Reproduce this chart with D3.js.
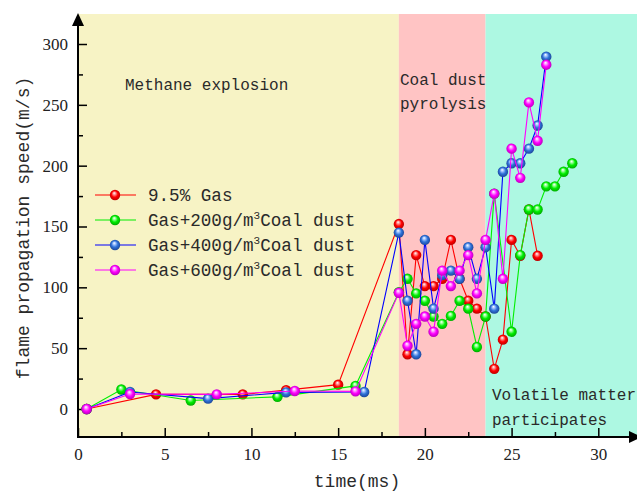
<!DOCTYPE html>
<html><head><meta charset="utf-8">
<script src="https://cdn.jsdelivr.net/npm/d3@7"></script>
<style>
html,body{margin:0;padding:0;background:#fff;}
svg{display:block;}
.lab{font-family:"Liberation Mono",monospace;fill:#2a2a2a;}
.tick text{font-family:"Liberation Serif",serif;font-size:17px;fill:#222;}
</style></head>
<body>
<svg id="chart" width="637" height="492"></svg>
<script>
// ---- data ----
const xTicks = [0, 5, 10, 15, 20, 25, 30];
const yTicks = [0, 50, 100, 150, 200, 250, 300];
const xMinor = [2.5, 7.5, 12.5, 17.5, 22.5, 27.5];
const yMinor = [25, 75, 125, 175, 225, 275];

const stages = ["Methane explosion", "Coal dust pyrolysis", "Volatile matter participates"];
const stageStart = [0, 18.5, 23.5];
const stageEnd = [18.5, 23.5, 34];

const seriesNames = ["9.5% Gas", "Gas+200g/m3Coal dust", "Gas+400g/m3Coal dust", "Gas+600g/m3Coal dust"];

const gasTime  = [0.5, 4.5, 9.5, 12, 15, 18.5, 19, 19.5, 20, 20.5, 21, 21.5, 22, 22.5, 23, 23.5, 24, 24.5, 25, 25.5, 26, 26.5];
const gasSpeed = [0, 12, 12, 15.5, 20, 152, 45, 126.5, 101, 101, 107, 139, 107, 89, 82.5, 76, 33, 57, 139, 126, 164, 126];

const c200Time  = [0.5, 2.5, 6.5, 11.5, 16, 18.5, 19, 19.5, 20, 20.5, 21, 21.5, 22, 22.5, 23, 23.5, 24, 25, 25.5, 26, 26.5, 27, 27.5, 28, 28.5];
const c200Speed = [0, 16, 7, 10, 19, 96, 107, 95, 89, 76, 70, 76.5, 89, 82.5, 51, 76, 177, 63.5, 126.5, 164, 164, 183, 183, 195, 202];

const c400Time  = [0.5, 3, 7.5, 12, 16.5, 18.5, 19, 19.5, 20, 20.5, 21, 21.5, 22, 22.5, 23, 23.5, 24, 24.5, 25, 25.5, 26, 26.5, 27];
const c400Speed = [0, 14, 8.5, 13.7, 14, 145, 89, 45, 139, 82.5, 110, 113.7, 107, 133, 107, 133, 82.5, 195, 202, 202, 214, 233, 289.6];

const c600Time  = [0.5, 3, 8, 12.5, 16, 18.5, 19, 19.5, 20, 20.5, 21, 21.5, 22, 22.5, 23, 23.5, 24, 24.5, 25, 25.5, 26, 26.5, 27];
const c600Speed = [0, 12.3, 12, 14.8, 14.5, 95.5, 52, 70, 76, 63.5, 113.7, 101, 113.7, 126.5, 95, 139, 177, 107, 214, 190, 252, 220.5, 283];

// ---- layout ----
const svg = d3.select("#chart");
const x = d3.scaleLinear().domain([0, 30]).range([78, 598.3]);
const y = d3.scaleLinear().domain([0, 300]).range([409, 44]);
const plotTop = 14, plotBottom = 437, plotRight = 637;

const stageColors = ["#f7f3c5", "#ffc4c4", "#adf8e2"];
const defs = svg.append("defs");
defs.append("clipPath").attr("id","clip").append("rect")
  .attr("x", 78).attr("y", plotTop).attr("width", plotRight - 78).attr("height", plotBottom - plotTop);

svg.append("g").selectAll("rect").data(stages).join("rect")
  .attr("x", (d,i) => x(stageStart[i]))
  .attr("width", (d,i) => Math.min(x(stageEnd[i]), plotRight) - x(stageStart[i]))
  .attr("y", plotTop).attr("height", plotBottom - plotTop)
  .attr("fill", (d,i) => stageColors[i]);

// stage labels
const stageLabelG = svg.append("g").attr("class","lab").style("font-size","16px");
stageLabelG.append("text").attr("x", 125).attr("y", 90).text("Methane explosion");
stageLabelG.append("text").attr("x", 400).attr("y", 85).text("Coal dust");
stageLabelG.append("text").attr("x", 400).attr("y", 109).text("pyrolysis");
stageLabelG.append("text").attr("x", 492).attr("y", 400).text("Volatile matter");
stageLabelG.append("text").attr("x", 492).attr("y", 425).text("participates");

// axes
const xAxis = d3.axisBottom(x).tickValues(xTicks).tickSize(-9).tickPadding(20).tickFormat(d3.format("d"));
const gx = svg.append("g").attr("transform", `translate(0,${plotBottom})`).call(xAxis);
gx.select(".domain").remove();
gx.selectAll(".tick line").attr("stroke","#000").attr("stroke-width",1.5);
gx.selectAll(".tick text").attr("dy","0.2em");
const gxm = svg.append("g").attr("transform", `translate(0,${plotBottom})`)
  .call(d3.axisBottom(x).tickValues(xMinor).tickSize(-5).tickFormat(""));
gxm.select(".domain").remove();
gxm.selectAll(".tick line").attr("stroke","#000").attr("stroke-width",1.5);

const yAxis = d3.axisLeft(y).tickValues(yTicks).tickSize(-9).tickPadding(10).tickFormat(d3.format("d"));
const gy = svg.append("g").attr("transform", `translate(78,0)`).call(yAxis);
gy.select(".domain").remove();
gy.selectAll(".tick line").attr("stroke","#000").attr("stroke-width",1.5);
const gym = svg.append("g").attr("transform", `translate(78,0)`)
  .call(d3.axisLeft(y).tickValues(yMinor).tickSize(-5).tickFormat(""));
gym.select(".domain").remove();
gym.selectAll(".tick line").attr("stroke","#000").attr("stroke-width",1.5);

// axis lines with arrows
svg.append("line").attr("x1",78).attr("x2",78).attr("y1",plotBottom+1).attr("y2",22).attr("stroke","#000").attr("stroke-width",2);
svg.append("path").attr("d",`M72,26 L78,13 L84,26 Z`).attr("fill","#000");
svg.append("line").attr("x1",77).attr("x2",632).attr("y1",plotBottom).attr("y2",plotBottom).attr("stroke","#000").attr("stroke-width",2);
svg.append("path").attr("d",`M629,${plotBottom-6} L642,${plotBottom} L629,${plotBottom+6} Z`).attr("fill","#000");

// axis titles
svg.append("text").attr("class","lab").style("font-size","18px")
  .attr("x", 357).attr("y", 487).attr("text-anchor","middle").text("time(ms)");
svg.append("text").attr("class","lab").style("font-size","18px")
  .attr("transform","translate(29,228) rotate(-90)").attr("text-anchor","middle")
  .text("flame propagation speed(m/s)");

// series
const lineColors = ["#ff0000", "#00ee00", "#0000ff", "#ff00ff"];
const ballColors = [["#ff9a9a","#ff0000","#b00000"],["#a0ffa0","#00ee00","#00a000"],["#a8c8ff","#2f72d8","#1a3f90"],["#ffa0ff","#ff00ff","#b000b0"]];
ballColors.forEach((c,i) => {
  const g = defs.append("radialGradient").attr("id","ball"+i)
    .attr("cx","50%").attr("cy","50%").attr("r","55%").attr("fx","42%").attr("fy","30%");
  g.append("stop").attr("offset","0%").attr("stop-color","#ffffff");
  g.append("stop").attr("offset","22%").attr("stop-color",c[0]);
  g.append("stop").attr("offset","55%").attr("stop-color",c[1]);
  g.append("stop").attr("offset","100%").attr("stop-color",c[2]);
});

const series = [
  {t: gasTime, v: gasSpeed},
  {t: c200Time, v: c200Speed},
  {t: c400Time, v: c400Speed},
  {t: c600Time, v: c600Speed}
];
const line = d3.line().x(d => x(d[0])).y(d => y(d[1]));
const R = 5.2;
const plotG = svg.append("g").attr("clip-path","url(#clip)");
series.forEach((s,i) => {
  const pts = s.t.map((t,k) => [t, s.v[k]]);
  plotG.append("path").datum(pts).attr("d", line).attr("fill","none")
    .attr("stroke", lineColors[i]).attr("stroke-width",1.1);
  plotG.append("g").selectAll("circle").data(pts).join("circle")
    .attr("cx", d => x(d[0])).attr("cy", d => y(d[1])).attr("r", R)
    .attr("fill", `url(#ball${i})`);
});

// legend
const legY = [195, 220, 245, 270];
const leg = svg.append("g");
seriesNames.forEach((name,i) => {
  const g = leg.append("g").attr("transform", `translate(0,${legY[i]})`);
  g.append("line").attr("x1",95).attr("x2",136).attr("y1",0).attr("y2",0)
    .attr("stroke", lineColors[i]).attr("stroke-width",1.1);
  g.append("circle").attr("cx",115).attr("cy",0).attr("r",R).attr("fill",`url(#ball${i})`);
  const t = g.append("text").attr("class","lab").style("font-size","17.6px").attr("x",148).attr("y",6);
  const parts = name.split("m3");
  if (parts.length === 2) {
    t.append("tspan").text(parts[0] + "m");
    t.append("tspan").attr("dy",-7).style("font-size","11px").text("3");
    t.append("tspan").attr("dy",7).text(parts[1]);
  } else {
    t.text(name);
  }
});
</script>
</body></html>
